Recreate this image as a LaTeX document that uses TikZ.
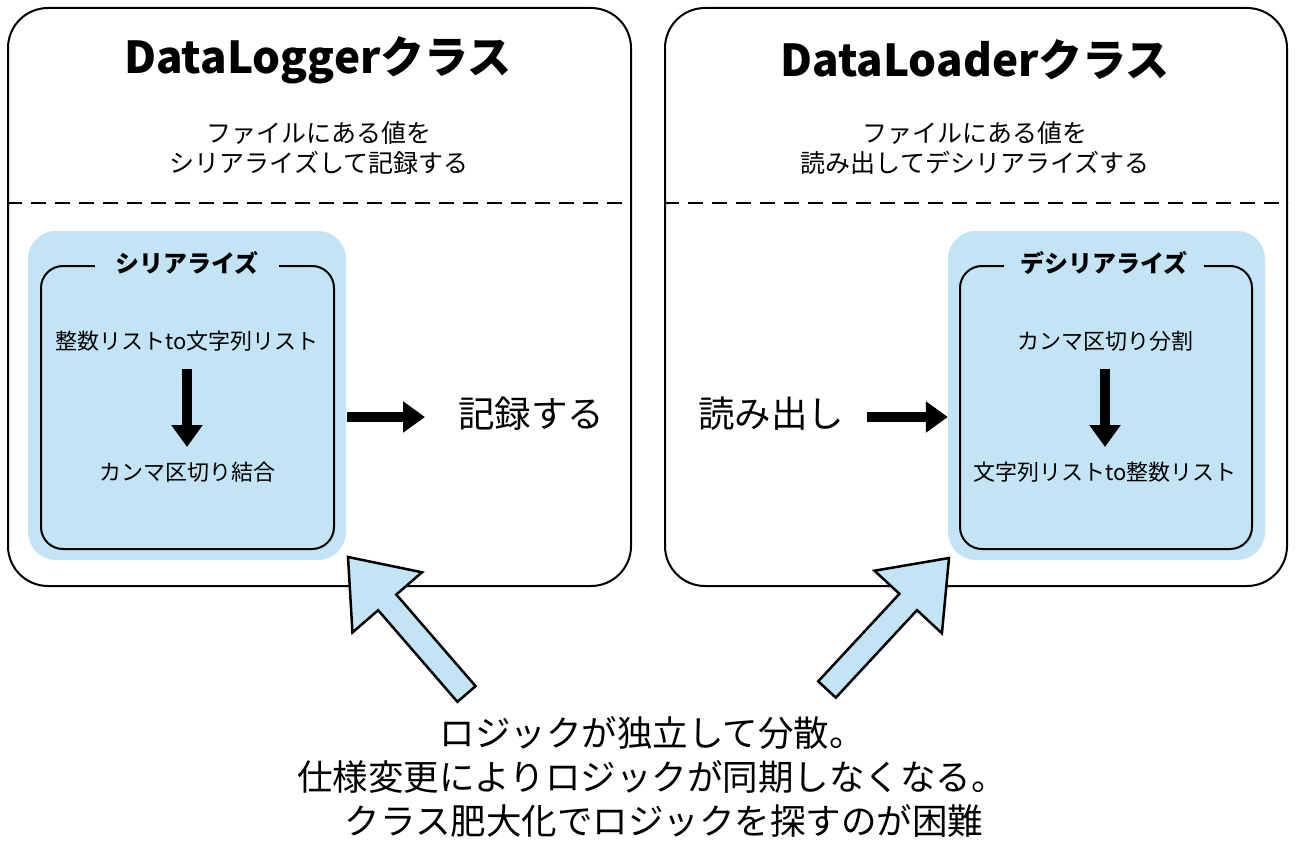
\documentclass[tikz,border=0pt]{standalone}
\usepackage{fontspec}
\setmainfont{Noto Sans CJK JP}
\usetikzlibrary{arrows.meta,calc}
\definecolor{lblue}{RGB}{194,228,245}
\tikzset{
  outerbox/.style={draw, line width=2pt, rounded corners=40pt, inner sep=0pt},
  bluebox/.style={fill=lblue, rounded corners=28pt, inner sep=0pt},
  innerbox/.style={draw, line width=2pt, rounded corners=22pt, inner sep=0pt},
  boxlabel/.style={fill=lblue, inner xsep=20pt, inner ysep=2pt, font=\bfseries\fontsize{24}{28}\selectfont},
  titletext/.style={font=\bfseries\fontsize{44}{52}\selectfont},
  subtext/.style={align=center, font=\fontsize{25}{30}\selectfont},
  steptext/.style={font=\fontsize{22}{26}\selectfont},
  bigtext/.style={font=\fontsize{36.5}{44}\selectfont},
  fatarrow/.style={line width=10pt, -{Triangle[length=22pt,width=30pt]}},
  barrow/.style={draw, fill=lblue, line width=2.5pt, line join=miter},
  sep/.style={line width=2pt, dash pattern=on 15pt off 9pt}
}
\newcommand\blockarr[2]{%
  \coordinate (h) at ($(#2)!60pt!(#1)$);
  \draw[barrow] ($(#1)!12pt!90:(#2)$) -- ($(h)!12pt!90:(#2)$) -- ($(h)!46pt!90:(#2)$) -- (#2)
    -- ($(h)!46pt!-90:(#2)$) -- ($(h)!12pt!-90:(#2)$) -- ($(#1)!12pt!-90:(#2)$) -- cycle;}
\begin{document}
\begin{tikzpicture}[x=1pt,y=-1pt]
\useasboundingbox[fill=white] (0,0) rectangle (1295,848);

% outer class boxes
\node[outerbox, minimum width=623pt, minimum height=578pt] (L) at (319.5,297) {};
\node[outerbox, minimum width=622pt, minimum height=578pt] (R) at (976,297) {};

\node[titletext] (Lt) at (318,60) {DataLoggerクラス};
\node[titletext] (Rt) at (975,60) {DataLoaderクラス};

\node[subtext] (Ls) at (319,148) {ファイルにある値を\\シリアライズして記録する};
\node[subtext] (Rs) at (975,148) {ファイルにある値を\\読み出してデシリアライズする};

\draw[sep] (L.west |- 0,203) -- (L.east |- 0,203);
\draw[sep] (R.west |- 0,203) -- (R.east |- 0,203);

% left serialize group
\node[bluebox, minimum width=318pt, minimum height=329pt] (Lb) at (187,395.5) {};
\node[innerbox, minimum width=293pt, minimum height=283pt] (Li) at (187.5,407.5) {};
\node[boxlabel] (Ll) at (187,263) {シリアライズ};
\node[steptext] (L1) at (187,341) {整数リストto文字列リスト};
\node[steptext] (L2) at (187,472) {カンマ区切り結合};
\coordinate (L1b) at (187,369);
\coordinate (L2t) at (187,447);
\draw[fatarrow] (L1b) -- (L2t);

\coordinate (La0) at (347,417);
\coordinate (La1) at (425,417);
\draw[fatarrow] (La0) -- (La1);
\node[bigtext] (Lw) at (531,414) {記録する};

% right deserialize group
\node[bluebox, minimum width=317pt, minimum height=329pt] (Rb) at (1106.5,395.5) {};
\node[innerbox, minimum width=292pt, minimum height=283pt] (Ri) at (1106,407.5) {};
\node[boxlabel, inner xsep=16pt] (Rl) at (1104,263) {デシリアライズ};
\node[steptext] (R1) at (1105,341) {カンマ区切り分割};
\node[steptext] (R2) at (1105,472) {文字列リストto整数リスト};
\coordinate (R1b) at (1105,369);
\coordinate (R2t) at (1105,447);
\draw[fatarrow] (R1b) -- (R2t);

\node[bigtext] (Rw) at (771,414) {読み出し};
\coordinate (Ra0) at (867,417);
\draw[fatarrow] (Ra0) -- (Rb.west |- Ra0);

% bottom note and block arrows
\node[font=\fontsize{35.5}{44}\selectfont, align=center] (note) at (652,777) {ロジックが独立して分散。\\仕様変更によりロジックが同期しなくなる。\\\hspace*{24pt}クラス肥大化でロジックを探すのが困難};
\coordinate (lat) at (466.5,694);
\coordinate (lah) at (348,557);
\coordinate (rat) at (827,689.5);
\coordinate (rah) at (949,558);
\blockarr{lat}{lah}
\blockarr{rat}{rah}
\end{tikzpicture}
\end{document}
